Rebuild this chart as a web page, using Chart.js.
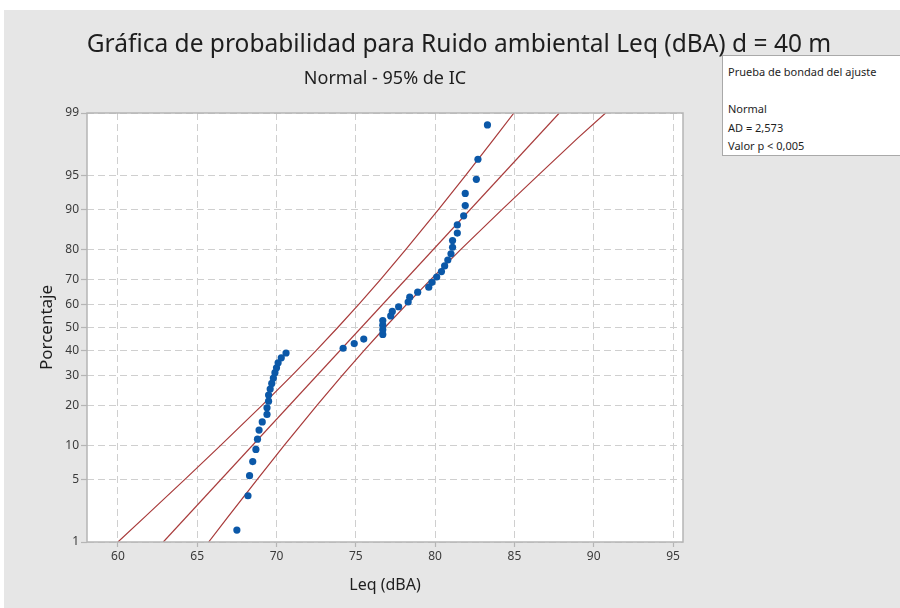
<!DOCTYPE html>
<html lang="es">
<head>
<meta charset="utf-8">
<title>Gráfica de probabilidad</title>
<script src="https://cdn.jsdelivr.net/npm/chart.js@4.4.0/dist/chart.umd.min.js"></script>
<style>
  html, body { margin: 0; padding: 0; background: #fff; }
  body { width: 900px; height: 608px; position: relative; overflow: hidden; font-family: "Noto Sans", sans-serif; color: #1e1e1e; }
  #panel { position: absolute; left: 4px; top: 10px; right: 0; bottom: 0; background: #e6e6e6; }
  #chart { position: absolute; left: 0; top: 0; }
  .title { position: absolute; left: 0; width: 918px; top: 27px; text-align: center; font-size: 24.5px; line-height: 32px; }
  .subtitle { position: absolute; left: 0; width: 770px; top: 65px; text-align: center; font-size: 18px; line-height: 24px; }
  .legend { position: absolute; left: 722px; top: 55px; width: 190px; height: 101px; background: #fff; border: 1px solid #a9a9a9; font-size: 11px; line-height: 18.5px; box-sizing: border-box; padding: 7px 0 0 5px; }
</style>
</head>
<body>
<div id="panel"></div>
<canvas id="chart" width="900" height="608"></canvas>
<div class="title">Gráfica de probabilidad para Ruido ambiental Leq (dBA) d = 40 m</div>
<div class="subtitle">Normal - 95% de IC</div>
<div class="legend">
  Prueba de bondad del ajuste<br><br>Normal<br>AD = 2,573<br>Valor p &lt; 0,005
</div>
<script>
// Leq (dBA) ordenados, y su posición de probabilidad (%)
const leqValues = [
  67.5, 68.2, 68.3, 68.5, 68.7, 68.8, 68.9, 69.1, 69.4, 69.4,
  69.5, 69.5, 69.6, 69.7, 69.8, 69.9, 70.0, 70.1, 70.3, 70.6,
  74.2, 74.9, 75.5, 76.7, 76.7, 76.7, 76.7, 77.2, 77.3, 77.7,
  78.3, 78.4, 78.9, 79.6, 79.8, 80.1, 80.4, 80.6, 80.8, 81.0,
  81.1, 81.1, 81.4, 81.4, 81.8, 81.9, 81.9, 82.6, 82.7, 83.3
];
const percentValues = [
  1.4, 3.4, 5.4, 7.3, 9.3, 11.3, 13.3, 15.3, 17.3, 19.2,
  21.2, 23.2, 25.2, 27.2, 29.2, 31.2, 33.1, 35.1, 37.1, 39.1,
  41.1, 43.1, 45.0, 47.0, 49.0, 51.0, 53.0, 55.0, 56.9, 58.9,
  60.9, 62.9, 64.9, 66.9, 68.8, 70.8, 72.8, 74.8, 76.8, 78.8,
  80.8, 82.7, 84.7, 86.7, 88.7, 90.7, 92.7, 94.6, 96.6, 98.6
];

// recta ajustada y bandas de confianza (95%)
const fitPercent = [1, 99];
const fitLeq = [62.86, 87.83];
const bandPercent = [1, 2, 5, 10, 20, 30, 40, 50, 60, 70, 80, 90, 95, 98, 99];
const bandLower = [60.00, 61.70, 64.24, 66.46, 69.10, 70.95, 72.48, 73.86, 75.20, 76.58, 78.13, 80.22, 81.90, 83.75, 84.97];
const bandUpper = [65.72, 66.94, 68.80, 70.47, 72.56, 74.12, 75.50, 76.83, 78.22, 79.75, 81.59, 84.23, 86.46, 88.99, 90.75];

const xTicks = [60, 65, 70, 75, 80, 85, 90, 95];
const yTicks = [1, 5, 10, 20, 30, 40, 50, 60, 70, 80, 90, 95, 99];

const pointColor = '#0b58a8';
const lineColor = '#a83a3a';
const gridColor = '#cfcfcf';
const frameColor = '#b5b5b5';
const tickText = '#3a3a3a';

// normal inversa (Acklam)
function probit(p) {
  p = Math.min(Math.max(p, 1e-9), 1 - 1e-9);
  const a = [-39.69683028665376, 220.9460984245205, -275.9285104469687, 138.3577518672690, -30.66479806614716, 2.506628277459239];
  const b = [-54.47609879822406, 161.5858368580409, -155.6989798598866, 66.80131188771972, -13.28068155288572];
  const c = [-0.007784894002430293, -0.3223964580411365, -2.400758277161838, -2.549732539343734, 4.374664141464968, 2.938163982698783];
  const d = [0.007784695709041462, 0.3224671290700398, 2.445134137142996, 3.754408661907416];
  const pl = 0.02425;
  let q, r;
  if (p < pl) {
    q = Math.sqrt(-2 * Math.log(p));
    return (((((c[0]*q+c[1])*q+c[2])*q+c[3])*q+c[4])*q+c[5]) / ((((d[0]*q+d[1])*q+d[2])*q+d[3])*q+1);
  }
  if (p > 1 - pl) {
    q = Math.sqrt(-2 * Math.log(1 - p));
    return -(((((c[0]*q+c[1])*q+c[2])*q+c[3])*q+c[4])*q+c[5]) / ((((d[0]*q+d[1])*q+d[2])*q+d[3])*q+1);
  }
  q = p - 0.5; r = q * q;
  return (((((a[0]*r+a[1])*r+a[2])*r+a[3])*r+a[4])*r+a[5])*q / (((((b[0]*r+b[1])*r+b[2])*r+b[3])*r+b[4])*r+1);
}

function normCdf(z) {
  const t = 1 / (1 + 0.3275911 * Math.abs(z) / Math.SQRT2);
  const y = 1 - (((((1.061405429*t - 1.453152027)*t) + 1.421413741)*t - 0.284496736)*t + 0.254829592)*t * Math.exp(-z*z/2);
  return z >= 0 ? (1 + y) / 2 : (1 - y) / 2;
}

// escala de probabilidad normal para el eje Y
class ProbabilityScale extends Chart.LinearScale {
  getPixelForValue(value) {
    const z0 = probit(this.min / 100), z1 = probit(this.max / 100);
    return this.getPixelForDecimal((probit(value / 100) - z0) / (z1 - z0));
  }
  getValueForPixel(pixel) {
    const z0 = probit(this.min / 100), z1 = probit(this.max / 100);
    return 100 * normCdf(z0 + this.getDecimalForPixel(pixel) * (z1 - z0));
  }
}
ProbabilityScale.id = 'probability';
Chart.register(ProbabilityScale);

const toPoints = (xs, ps) => xs.map((x, i) => ({ x: x, y: ps[i] }));

const framePlugin = {
  id: 'frame',
  beforeDraw(chart) {
    const { ctx, chartArea: a } = chart;
    ctx.save();
    ctx.fillStyle = '#ffffff';
    ctx.fillRect(a.left, a.top, a.right - a.left, a.bottom - a.top);
    ctx.restore();
  },
  afterDraw(chart) {
    const { ctx, chartArea: a } = chart;
    ctx.save();
    ctx.strokeStyle = frameColor;
    ctx.lineWidth = 1.5;
    ctx.strokeRect(a.left, a.top, a.right - a.left, a.bottom - a.top);
    ctx.restore();
  }
};

const bandStyle = {
  showLine: true,
  pointRadius: 0,
  borderColor: lineColor,
  borderWidth: 1.2,
  order: 1
};

new Chart(document.getElementById('chart'), {
  type: 'scatter',
  data: {
    datasets: [
      {
        label: 'Leq (dBA)',
        data: toPoints(leqValues, percentValues),
        backgroundColor: pointColor,
        borderColor: pointColor,
        pointRadius: 3.6,
        borderWidth: 0,
        order: 0
      },
      Object.assign({ label: 'Ajuste', data: toPoints(fitLeq, fitPercent) }, bandStyle),
      Object.assign({ label: 'IC inferior', data: toPoints(bandLower, bandPercent) }, bandStyle),
      Object.assign({ label: 'IC superior', data: toPoints(bandUpper, bandPercent) }, bandStyle)
    ]
  },
  options: {
    responsive: false,
    animation: false,
    events: [],
    layout: { padding: { top: 113, right: 217, bottom: 0, left: 0 } },
    plugins: {
      legend: { display: false },
      tooltip: { enabled: false }
    },
    scales: {
      x: {
        type: 'linear',
        min: 58.05,
        max: 95.63,
        afterBuildTicks: s => { s.ticks = xTicks.map(v => ({ value: v })); },
        afterFit: s => { s.height = 66; },
        grid: { color: gridColor, lineWidth: 1, tickLength: 5, tickColor: frameColor, tickWidth: 1.2 },
        border: { display: false, dash: [7, 4] },
        ticks: { color: tickText, font: { family: 'Noto Sans', size: 12 }, padding: 2, maxRotation: 0 },
        title: { display: true, text: 'Leq (dBA)', color: '#1e1e1e', font: { family: 'Noto Sans', size: 16 }, padding: { top: 0, bottom: 13 } }
      },
      y: {
        type: 'probability',
        min: 1,
        max: 99,
        afterBuildTicks: s => { s.ticks = yTicks.map(v => ({ value: v })); },
        afterFit: s => { s.width = 87; },
        grid: { color: gridColor, lineWidth: 1, tickLength: 6, tickColor: frameColor, tickWidth: 1.2 },
        border: { display: false, dash: [7, 4] },
        ticks: { color: tickText, font: { family: 'Noto Sans', size: 12 }, padding: 2, callback: v => String(v) },
        title: { display: true, text: 'Porcentaje', color: '#1e1e1e', font: { family: 'Noto Sans', size: 17 }, padding: { top: 37, bottom: 0 } }
      }
    }
  },
  plugins: [framePlugin]
});
</script>
</body>
</html>
